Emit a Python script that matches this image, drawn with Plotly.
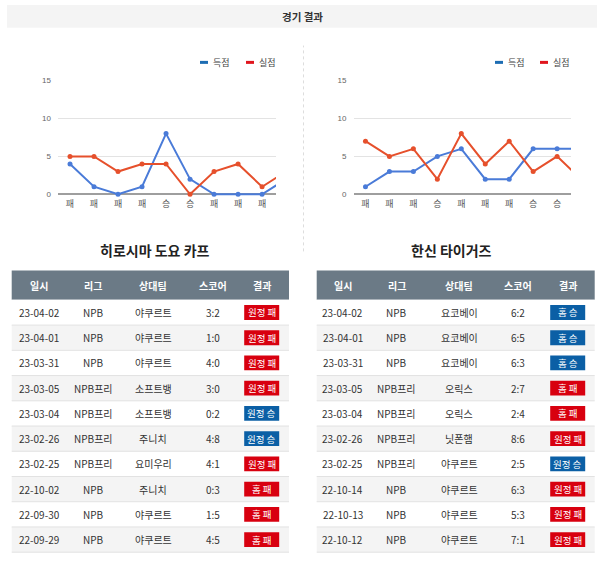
import plotly.graph_objects as go

W, H = 600, 573

# ---------------- data ----------------
page_title = "경기 결과"
series_names = ["득점", "실점"]
header = ["일시", "리그", "상대팀", "스코어", "결과"]

# Hiroshima (chart: chronological order)
h_team = "히로시마 도요 카프"
h_wl = ["패", "패", "패", "패", "승", "승", "패", "패", "패", "패"]
h_for = [4, 1, 0, 1, 8, 2, 0, 0, 0, 2]
h_against = [5, 5, 3, 4, 4, 0, 3, 4, 1, 3]
h_dates = ["23-04-02", "23-04-01", "23-03-31", "23-03-05", "23-03-04", "23-02-26", "23-02-25", "22-10-02", "22-09-30", "22-09-29"]
h_league = ["NPB", "NPB", "NPB", "NPB프리", "NPB프리", "NPB프리", "NPB프리", "NPB", "NPB", "NPB"]
h_opp = ["야쿠르트", "야쿠르트", "야쿠르트", "소프트뱅", "소프트뱅", "주니치", "요미우리", "주니치", "야쿠르트", "야쿠르트"]
h_score = ["3:2", "1:0", "4:0", "3:0", "0:2", "4:8", "4:1", "0:3", "1:5", "4:5"]
h_result = ["원정 패", "원정 패", "원정 패", "원정 패", "원정 승", "원정 승", "원정 패", "홈 패", "홈 패", "홈 패"]

# Hanshin
t_team = "한신 타이거즈"
t_wl = ["패", "패", "패", "승", "패", "패", "패", "승", "승", "승"]
t_for = [1, 3, 3, 5, 6, 2, 2, 6, 6, 6]
t_against = [7, 5, 6, 2, 8, 4, 7, 3, 5, 2]
t_dates = ["23-04-02", "23-04-01", "23-03-31", "23-03-05", "23-03-04", "23-02-26", "23-02-25", "22-10-14", "22-10-13", "22-10-12"]
t_league = ["NPB", "NPB", "NPB", "NPB프리", "NPB프리", "NPB프리", "NPB프리", "NPB", "NPB", "NPB"]
t_opp = ["요코베이", "요코베이", "요코베이", "오릭스", "오릭스", "닛폰햄", "야쿠르트", "야쿠르트", "야쿠르트", "야쿠르트"]
t_score = ["6:2", "6:5", "6:3", "2:7", "2:4", "8:6", "2:5", "6:3", "5:3", "7:1"]
t_result = ["홈 승", "홈 승", "홈 승", "홈 패", "홈 패", "원정 패", "원정 승", "원정 패", "원정 패", "원정 패"]

y_ticks = [0, 5, 10, 15]

# ---------------- style ----------------
FONT = "Noto Sans CJK KR"
LINE_BLUE = "#4a7bd8"
LINE_RED = "#e6502c"
LEG_BLUE = "#1d6db3"
LEG_RED = "#e0151d"
BADGE_RED = "#d8000f"
BADGE_BLUE = "#0b5fa5"
HEAD_FILL = "#6b7a86"
TXT = "#333333"


def px(x):
    return x / W


def py(y):
    return 1 - y / H


def label(x, y, text, size, color, xanchor="center", family=FONT):
    return dict(x=px(x), y=py(y), xref="paper", yref="paper", text=text, showarrow=False,
                xanchor=xanchor, yanchor="middle", font=dict(family=family, size=size, color=color))


fig = go.Figure()
shapes = []
ann = []

# title bar
shapes.append(dict(type="rect", xref="paper", yref="paper", x0=px(7), x1=px(597), y0=py(24), y1=py(1),
                   fillcolor="#f4f4f4", line=dict(width=0), layer="below"))
ann.append(label(302, 12.5, "<b>" + page_title + "</b>", 10.5, "#333"))

# separator
shapes.append(dict(type="line", xref="paper", yref="paper", x0=px(303.5), x1=px(303.5), y0=py(250), y1=py(42),
                   line=dict(color="#dddddd", width=1, dash="dot")))

charts = [
    dict(xa="x", ya="y", dom=(58, 276), wl=h_wl, f=h_for, a=h_against, leg=(200, 246)),
    dict(xa="x2", ya="y2", dom=(353.5, 571), wl=t_wl, f=t_for, a=t_against, leg=(495, 540)),
]
ydom = [py(195.4), py(77.3)]
for i, c in enumerate(charts):
    xs = list(range(len(c["wl"])))
    fig.add_trace(go.Scatter(x=xs, y=c["f"], mode="lines+markers", name=series_names[0], xaxis=c["xa"], yaxis=c["ya"],
                             line=dict(color=LINE_BLUE, width=2), marker=dict(size=5, color=LINE_BLUE),
                             showlegend=False, cliponaxis=True))
    fig.add_trace(go.Scatter(x=xs, y=c["a"], mode="lines+markers", name=series_names[1], xaxis=c["xa"], yaxis=c["ya"],
                             line=dict(color=LINE_RED, width=2), marker=dict(size=5, color=LINE_RED),
                             showlegend=False, cliponaxis=True))
    sfx = "" if i == 0 else "2"
    fig.layout["xaxis" + sfx] = dict(domain=[px(c["dom"][0]), px(c["dom"][1])], range=[-0.5, 8.58],
                                     tickvals=xs, ticktext=c["wl"], showgrid=False, zeroline=False,
                                     showline=False, ticks="", tickfont=dict(family=FONT, size=9, color="#555"),
                                     anchor="y" + sfx, fixedrange=True)
    fig.layout["yaxis" + sfx] = dict(domain=ydom, range=[-0.4, 15], tickvals=y_ticks, showgrid=True,
                                     gridcolor="#e3e3e3", gridwidth=1, zeroline=True, zerolinecolor="#9e9e9e",
                                     zerolinewidth=1.5, showline=False, ticks="", ticklabelstandoff=6,
                                     tickfont=dict(family="Arial", size=8, color="#666"),
                                     anchor="x" + sfx, fixedrange=True)
    # legend
    for k, (lx, col) in enumerate(zip(c["leg"], [LEG_BLUE, LEG_RED])):
        shapes.append(dict(type="line", xref="paper", yref="paper", x0=px(lx), x1=px(lx + 8), y0=py(59), y1=py(59),
                           line=dict(color=col, width=3)))
        ann.append(label(lx + 11, 59, series_names[k], 9, "#444", xanchor="left"))

# tables
tables = [
    dict(team=h_team, cx=155, x0=11.7, x1=289, cols=[39.3, 93.3, 153.3, 213.3, 261.7],
         rows=[h_dates, h_league, h_opp, h_score], res=h_result),
    dict(team=t_team, cx=451, x0=316.7, x1=594.7, cols=[342.7, 396.7, 459.3, 518.3, 567.7],
         rows=[t_dates, t_league, t_opp, t_score], res=t_result),
]
HEAD_TOP, HEAD_BOT, ROW_H = 269.3, 299.0, 25.5
for tb in tables:
    ann.append(label(tb["cx"], 248.5, "<b>" + tb["team"] + "</b>", 14, "#222"))
    shapes.append(dict(type="rect", xref="paper", yref="paper", x0=px(tb["x0"]), x1=px(tb["x1"]),
                       y0=py(HEAD_BOT), y1=py(HEAD_TOP), fillcolor=HEAD_FILL, line=dict(width=0), layer="below"))
    for j, h in enumerate(header):
        ann.append(label(tb["cols"][j], (HEAD_TOP + HEAD_BOT) / 2, "<b>" + h + "</b>", 10, "white"))
    n = len(tb["res"])
    for r in range(n):
        top = HEAD_BOT + r * ROW_H
        bot = top + ROW_H
        mid = (top + bot) / 2
        fill = "#f4f4f4" if r % 2 == 1 else "#ffffff"
        shapes.append(dict(type="rect", xref="paper", yref="paper", x0=px(tb["x0"]), x1=px(tb["x1"]),
                           y0=py(bot), y1=py(top), fillcolor=fill, line=dict(width=0), layer="below"))
        shapes.append(dict(type="line", xref="paper", yref="paper", x0=px(tb["x0"]), x1=px(tb["x1"]),
                           y0=py(bot), y1=py(bot), line=dict(color="#e2e2e2", width=1)))
        for j, col in enumerate(tb["rows"]):
            ann.append(label(tb["cols"][j], mid, col[r], 10, TXT))
        res = tb["res"][r]
        bc = BADGE_BLUE if res.endswith("승") else BADGE_RED
        bx = tb["cols"][4]
        shapes.append(dict(type="rect", xref="paper", yref="paper", x0=px(bx - 17.5), x1=px(bx + 17.5),
                           y0=py(mid + 7.5), y1=py(mid - 7.5), fillcolor=bc, line=dict(width=0)))
        ann.append(label(bx, mid, res, 9.5, "white"))

fig.update_layout(width=W, height=H, margin=dict(l=0, r=0, t=0, b=0), paper_bgcolor="white",
                  plot_bgcolor="white", shapes=shapes, annotations=ann, showlegend=False)
fig.write_html("out.html", config={"displayModeBar": False})
